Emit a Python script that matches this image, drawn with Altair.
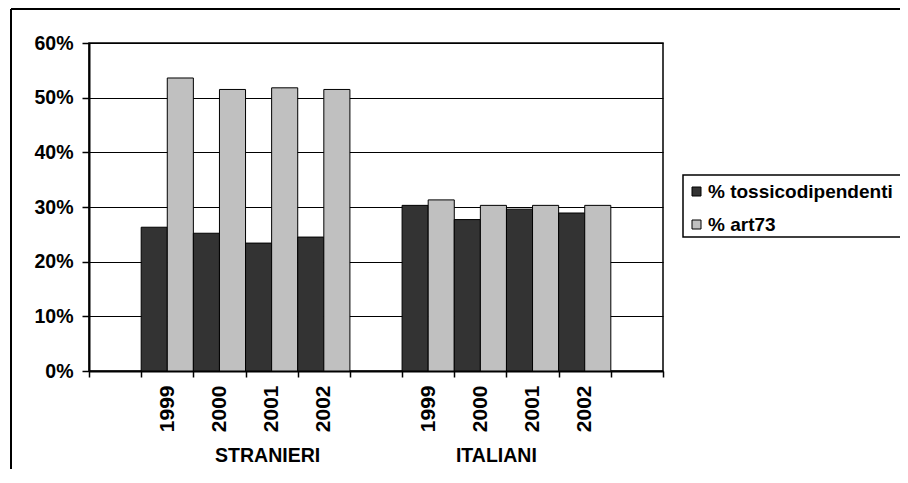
import altair as alt
import pandas as pd

groups = ["STRANIERI", "ITALIANI"]
years = ["1999", "2000", "2001", "2002"]
series = ["% tossicodipendenti", "% art73"]
stranieri_tossico = [26.3, 25.2, 23.4, 24.5]
stranieri_art73 = [53.6, 51.5, 51.8, 51.5]
italiani_tossico = [30.3, 27.7, 29.6, 28.9]
italiani_art73 = [31.3, 30.3, 30.3, 30.3]
colors = ["#333333", "#c0c0c0"]
y_ticks = [0, 0.1, 0.2, 0.3, 0.4, 0.5, 0.6]

FONT = "Liberation Sans"
FS = 19.5

slots = ["_0"] + ["S" + y for y in years] + ["_5"] + ["I" + y for y in years] + ["_10"]

rows = []
for prefix, tox, art in [("S", stranieri_tossico, stranieri_art73),
                         ("I", italiani_tossico, italiani_art73)]:
    for i, yr in enumerate(years):
        rows.append({"slot": prefix + yr, "series": series[0], "value": tox[i] / 100})
        rows.append({"slot": prefix + yr, "series": series[1], "value": art[i] / 100})
df = pd.DataFrame(rows)

xscale = alt.Scale(domain=slots, paddingInner=0, paddingOuter=0)

bars = alt.Chart(df).mark_bar(stroke="black", strokeWidth=1).encode(
    x=alt.X("slot:N", sort=slots, scale=xscale,
            axis=alt.Axis(title=None, tickBand="extent", labelAngle=-90,
                          labelExpr="isString(datum.value) && slice(datum.value,0,1) != '_' ? slice(datum.value,1) : ''",
                          labelFont=FONT, labelFontSize=21, labelFontWeight="bold",
                          labelColor="black", labelPadding=8, tickSize=6,
                          tickColor="black", tickWidth=1.5, domainColor="black",
                          domainWidth=2, grid=False)),
    xOffset=alt.XOffset("series:N", sort=series,
                        scale=alt.Scale(domain=series, paddingInner=0, paddingOuter=0)),
    y=alt.Y("value:Q", scale=alt.Scale(domain=[0, 0.6], nice=False),
            axis=alt.Axis(title=None, values=y_ticks, format=".0%",
                          labelFont=FONT, labelFontSize=FS, labelFontWeight="bold",
                          labelColor="black", labelPadding=9, tickSize=7,
                          tickColor="black", tickWidth=1.5, domainColor="black",
                          domainWidth=2, grid=True, gridColor="black",
                          gridWidth=1, gridOpacity=1)),
    color=alt.Color("series:N", sort=series,
                    scale=alt.Scale(domain=series, range=colors),
                    legend=alt.Legend(title=None, orient="none", legendX=598, legendY=139,
                                      symbolType="square", symbolSize=81,
                                      symbolStrokeColor="black", symbolStrokeWidth=1,
                                      symbolOpacity=1,
                                      labelFont=FONT, labelFontSize=19,
                                      labelFontWeight="bold", labelColor="black",
                                      labelOffset=2, rowPadding=13, padding=0,
                                      labelLimit=400)),
)

def group_label(name, slot, dx):
    return alt.Chart(pd.DataFrame({"g": [name], "slot": [slot]})).mark_text(
        font=FONT, fontSize=FS, fontWeight="bold", color="black",
        baseline="alphabetic", align="center", dx=dx
    ).encode(
        x=alt.X("slot:N", sort=slots, scale=xscale, bandPosition=0.5),
        y=alt.value(419),
        text="g:N",
    )

gl1 = group_label(groups[0], "S2001", -4)
gl2 = group_label(groups[1], "I2000", 16)

one = pd.DataFrame({"a": [0]})
border_top = alt.Chart(one).mark_rule(color="black", strokeWidth=2).encode(
    x=alt.value(-78), x2=alt.value(900), y=alt.value(-34))
border_left = alt.Chart(one).mark_rule(color="black", strokeWidth=2).encode(
    x=alt.value(-78), y=alt.value(-34), y2=alt.value(600))
legend_box = alt.Chart(one).mark_rect(
    filled=False, stroke="black", strokeWidth=1.5).encode(
    x=alt.value(594), x2=alt.value(900), y=alt.value(132), y2=alt.value(194))

chart = alt.layer(bars, gl1, gl2, border_top, border_left, legend_box).properties(
    width=574, height=328,
    autosize=alt.AutoSizeParams(type="none"),
    padding={"left": 81, "top": 35, "right": 237, "bottom": 98},
    background="white",
).configure_view(stroke="black", strokeWidth=1.5)

chart.save("out.html", embed_options={"renderer": "svg", "actions": False})
